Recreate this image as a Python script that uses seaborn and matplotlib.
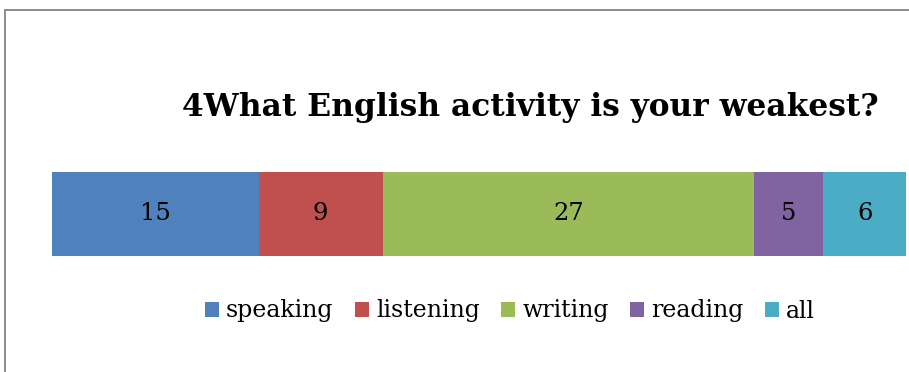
import numpy as np
import pandas as pd
import seaborn as sns
import matplotlib
matplotlib.use("Agg")
import matplotlib.pyplot as plt
from matplotlib.lines import Line2D
from matplotlib.patches import Patch

# Survey answers: weakest English activity
activities = ["speaking", "listening", "writing", "reading", "all"]
counts = [15, 9, 27, 5, 6]
colors = ["#4f81bd", "#c0504d", "#9bbb59", "#8064a2", "#4bacc6"]
title = "4What English activity is your weakest?"

sns.set_theme(style="white")
plt.rcParams["font.family"] = ["DejaVu Serif"]
plt.rcParams["text.color"] = "black"

df = pd.DataFrame({"activity": activities, "count": counts})
df["end"] = df["count"].cumsum()
df["start"] = df["end"] - df["count"]
df["row"] = ""

W, H = 909, 372
fig = plt.figure(figsize=(W / 100, H / 100), dpi=100)
ax = fig.add_axes([52 / W, (H - 256) / H, (906 - 52) / W, 84 / H])

# Stacked bar: draw cumulative totals from the longest down
for i in reversed(range(len(df))):
    sns.barplot(x=[df["end"][i]], y=[df["row"][i]], color=colors[i],
                orient="h", width=0.8, saturation=1, linewidth=0,
                edgecolor="none", ax=ax)

for s, c, v in zip(df["start"], df["count"], df["count"]):
    ax.text(s + c / 2, 0, str(v), ha="center", va="center",
            fontsize=17.5, color="black")

ax.set_xlim(0, df["end"].iloc[-1])
ax.set_ylim(0.4, -0.4)
ax.axis("off")

fig.text(530 / W, 1 - 116 / H, title, ha="center", va="baseline",
         fontsize=22.5, fontweight="bold", color="black")

handles = [Patch(facecolor=c, edgecolor="none") for c in colors]
leg = fig.legend(handles, activities, loc="center", ncol=5,
                 bbox_to_anchor=(510 / W, 1 - 311 / H), frameon=False,
                 fontsize=17, handlelength=0.6, handleheight=0.6,
                 handletextpad=0.3, columnspacing=0.9)
for t in leg.get_texts():
    t.set_color("black")

# Chart frame, top and left edges
frame_kw = dict(color="#8c8c8c", linewidth=1.4, transform=fig.transFigure)
fig.add_artist(Line2D([5 / W, 1], [1 - 10 / H, 1 - 10 / H], **frame_kw))
fig.add_artist(Line2D([5 / W, 5 / W], [0, 1 - 10 / H], **frame_kw))

fig.savefig("out.png", dpi=100)
